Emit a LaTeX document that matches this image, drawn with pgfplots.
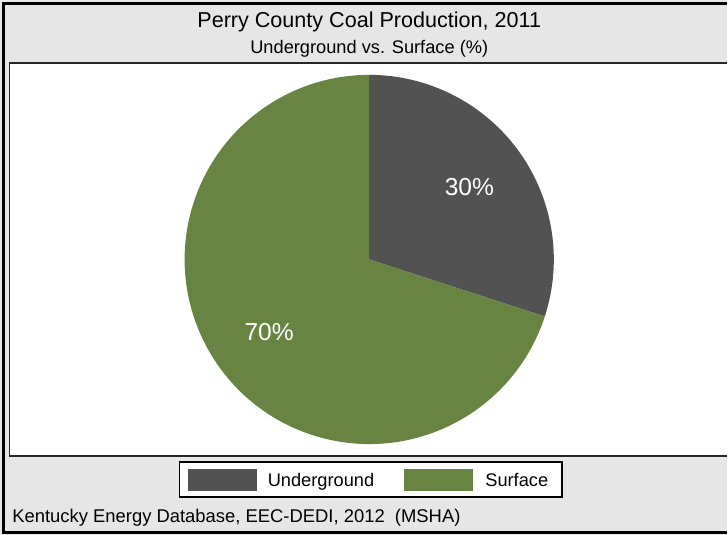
\documentclass[border=0pt]{standalone}
\usepackage{pgfplots}
\pgfplotsset{compat=1.18}
\usepackage{pgfplotstable}
\usetikzlibrary{calc}
\usepackage{fontspec}
\setmainfont{Liberation Sans}

\definecolor{undercol}{RGB}{82,82,82}
\definecolor{surfcol}{RGB}{103,132,67}
\definecolor{bgcol}{RGB}{230,230,230}

% share of production, percent
\pgfplotstableread{
category value
Underground 30
Surface 70
}\coaltbl

\pgfplotstablegetelem{0}{value}\of\coaltbl
\pgfmathsetmacro\vund{\pgfplotsretval}
\pgfplotstablegetelem{1}{value}\of\coaltbl
\pgfmathsetmacro\vsur{\pgfplotsretval}
% slices run clockwise from 12 o'clock
\pgfmathsetmacro\aa{90-3.6*\vund}
\pgfmathsetmacro\ab{\aa-3.6*\vsur}
\pgfmathsetmacro\ma{90-1.8*\vund}
\pgfmathsetmacro\mb{\aa-1.8*\vsur}

\begin{document}
\begin{tikzpicture}
\begin{axis}[
    x=0.02cm, y=0.02cm,
    xmin=0, xmax=728, ymin=0, ymax=536,
    hide axis, clip=false,
]
% background and frames
\fill[bgcol] (0,0) rectangle (728,536);
\draw[line width=0.06cm] (728,532) -- (4,532) -- (4,2.5) -- (728,2.5);
\fill[white] (9.5,79) rectangle (728,473);
\draw[line width=0.03cm, black!85] (728,473) -- (9.5,473) -- (9.5,79) -- (728,79);

% pie
\fill[undercol] (370,276) -- ++(90:3.7cm) arc[start angle=90, end angle=\aa, radius=3.7cm] -- cycle;
\fill[surfcol] (370,276) -- ++(\aa:3.7cm) arc[start angle=\aa, end angle=\ab, radius=3.7cm] -- cycle;
\node[white, font=\fontsize{14}{16}\selectfont] at ($(370,276)+(\ma:2.48cm)$) {30\%};
\node[white, font=\fontsize{14}{16}\selectfont] at ($(370,276)+(\mb:2.48cm)$) {70\%};

% titles
\node[font=\fontsize{12.3}{14}\selectfont] at (370,514) {Perry County Coal Production, 2011};
\node[font=\fontsize{10.4}{12}\selectfont] at (370,487) {Underground vs. Surface (\%)};

% legend
\draw[line width=0.03cm, fill=white] (180,38) rectangle (563,73);
\fill[undercol] (188,44) rectangle (258,66);
\fill[surfcol] (405,44) rectangle (474,66);
\node[anchor=base west, inner sep=0pt, font=\fontsize{10.4}{12}\selectfont] at (268,48.5) {Underground};
\node[anchor=base west, inner sep=0pt, font=\fontsize{10.4}{12}\selectfont] at (486,48.5) {Surface};

% source
\node[anchor=base west, inner sep=0pt, font=\fontsize{10.5}{12}\selectfont] at (12,12) {Kentucky Energy Database, EEC-DEDI, 2012\ \ (MSHA)};
\end{axis}
\end{tikzpicture}
\end{document}
